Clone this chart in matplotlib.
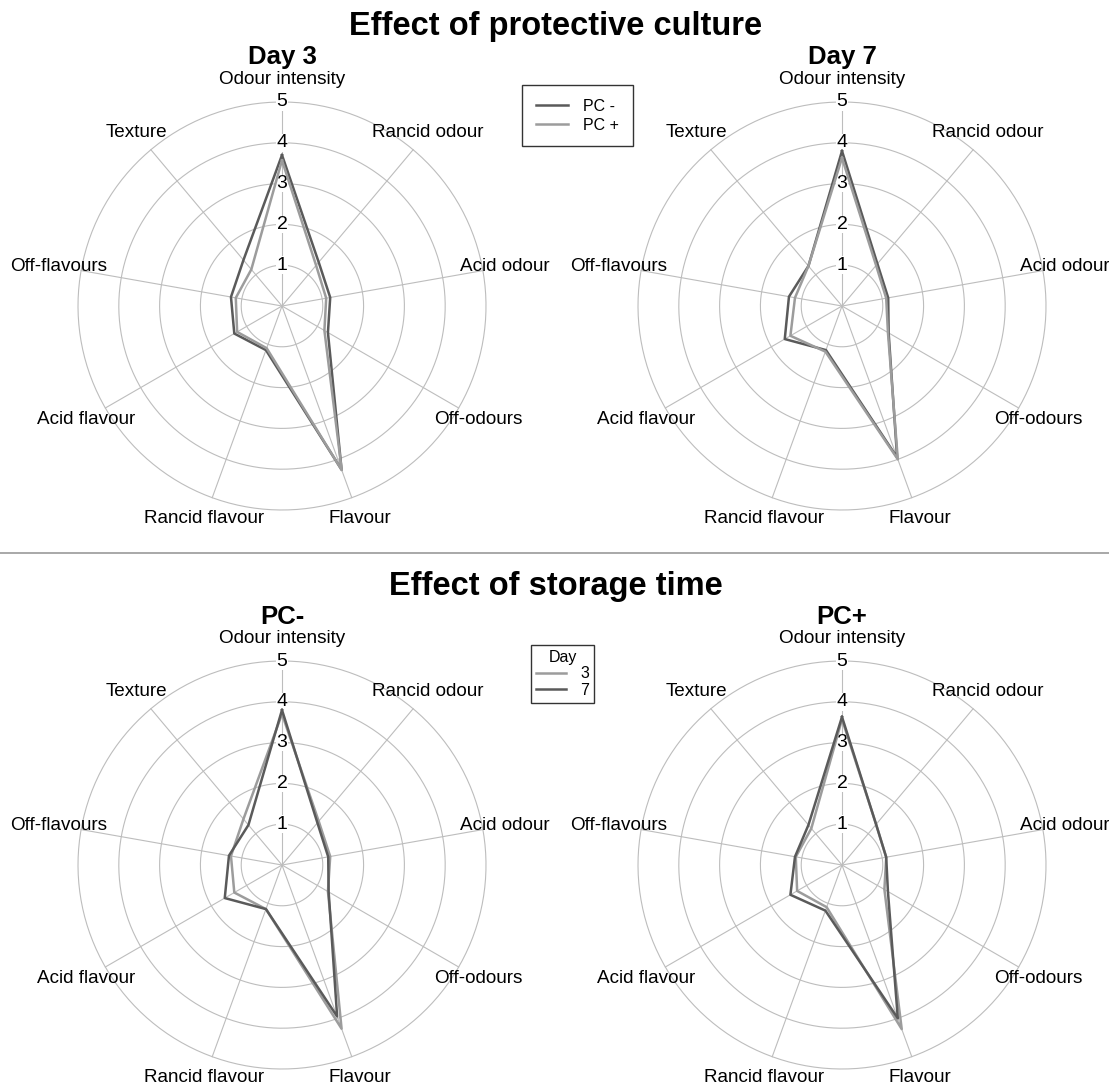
import matplotlib
matplotlib.use("Agg")
import matplotlib.pyplot as plt
from matplotlib.lines import Line2D
import numpy as np

plt.rcParams['font.family'] = ['Liberation Sans', 'DejaVu Sans']

# attributs sensoriels (sens horaire depuis le haut)
attributes = ['Odour intensity', 'Rancid odour', 'Acid odour', 'Off-odours', 'Flavour',
              'Rancid flavour', 'Acid flavour', 'Off-flavours', 'Texture']

# scores moyens
pc_minus_d3 = [3.70, 1.40, 1.20, 1.30, 4.27, 1.15, 1.35, 1.27, 1.47]
pc_plus_d3 = [3.57, 1.30, 1.10, 1.20, 4.28, 1.10, 1.27, 1.15, 1.17]
pc_minus_d7 = [3.80, 1.35, 1.15, 1.32, 3.95, 1.15, 1.62, 1.32, 1.28]
pc_plus_d7 = [3.63, 1.30, 1.10, 1.30, 4.00, 1.19, 1.46, 1.17, 1.28]

grid_levels = [1, 2, 3, 4, 5]

dark = '#5a5a5a'
light = '#9c9c9c'
grid_col = '#bdbdbd'

W, H = 1109, 1085
fig = plt.figure(figsize=(W / 100, H / 100), dpi=100)

theta = np.arange(len(attributes)) * 2 * np.pi / len(attributes)
R = 204  # rayon du cercle 5 en pixels


def radar(cx, cy, title, series):
    ax = fig.add_axes([(cx - R) / W, (H - cy - R) / H, 2 * R / W, 2 * R / H], projection='polar')
    ax.set_theta_zero_location('N')
    ax.set_theta_direction(-1)
    ax.set_ylim(0, 5)
    ax.grid(False)
    ax.set_xticks([])
    ax.set_yticks([])
    ax.spines['polar'].set_visible(False)
    ax.patch.set_visible(False)

    t = np.linspace(0, 2 * np.pi, 300)
    for lv in grid_levels:
        ax.plot(t, [lv] * len(t), color=grid_col, lw=0.8, zorder=1, clip_on=False)
    for th in theta:
        ax.plot([th, th], [0, 5], color=grid_col, lw=0.8, zorder=1, clip_on=False)
    for lv in grid_levels:
        ax.text(0, lv, str(lv), ha='center', va='center', fontsize=14, zorder=2,
                bbox=dict(facecolor='white', edgecolor='none', pad=0.3))
    for th, lab in zip(theta, attributes):
        ax.text(th, 5.55, lab, ha='center', va='center', fontsize=13.6)

    th_closed = np.append(theta, theta[0])
    for vals, col in series:
        ax.plot(th_closed, np.append(vals, vals[0]), color=col, lw=1.8, zorder=3)

    fig.text(cx / W, 1 - 57 / H if cy < 500 else 1 - 617 / H, title, ha='center', va='center',
             fontsize=18.5, fontweight='bold')
    return ax


radar(282, 306, 'Day 3', [(pc_minus_d3, dark), (pc_plus_d3, light)])
radar(842, 306, 'Day 7', [(pc_minus_d7, dark), (pc_plus_d7, light)])
radar(282, 865, 'PC-', [(pc_minus_d3, light), (pc_minus_d7, dark)])
radar(842, 865, 'PC+', [(pc_plus_d3, light), (pc_plus_d7, dark)])

fig.text(556 / W, 1 - 27 / H, 'Effect of protective culture', ha='center', va='center',
         fontsize=23.5, fontweight='bold')
fig.text(556 / W, 1 - 587 / H, 'Effect of storage time', ha='center', va='center',
         fontsize=23.5, fontweight='bold')

fig.add_artist(Line2D([0, 1], [1 - 553 / H, 1 - 553 / H], transform=fig.transFigure,
                      color='#999999', lw=1.2))

# légendes
h1 = [Line2D([], [], color=dark, lw=1.8), Line2D([], [], color=light, lw=1.8)]
leg1 = fig.legend(h1, ['PC -', 'PC +'], loc='upper left', bbox_to_anchor=(522 / W, 1 - 85 / H),
                  frameon=True, fancybox=False, edgecolor='black', fontsize=11.5,
                  handlelength=2.0, handletextpad=1.0, borderaxespad=0, labelspacing=0.25,
                  borderpad=0.85)
leg1.get_frame().set_linewidth(1.0)

h2 = [Line2D([], [], color=light, lw=1.8), Line2D([], [], color=dark, lw=1.8)]
leg2 = fig.legend(h2, ['3', '7'], title='Day', loc='upper left', bbox_to_anchor=(531 / W, 1 - 645 / H),
                  frameon=True, fancybox=False, edgecolor='black', fontsize=11.5, title_fontsize=11.5,
                  handlelength=1.9, handletextpad=0.9, borderaxespad=0, labelspacing=0.1,
                  borderpad=0.3)
leg2.get_frame().set_linewidth(1.0)

fig.savefig('out.png', dpi=100, facecolor='white')
